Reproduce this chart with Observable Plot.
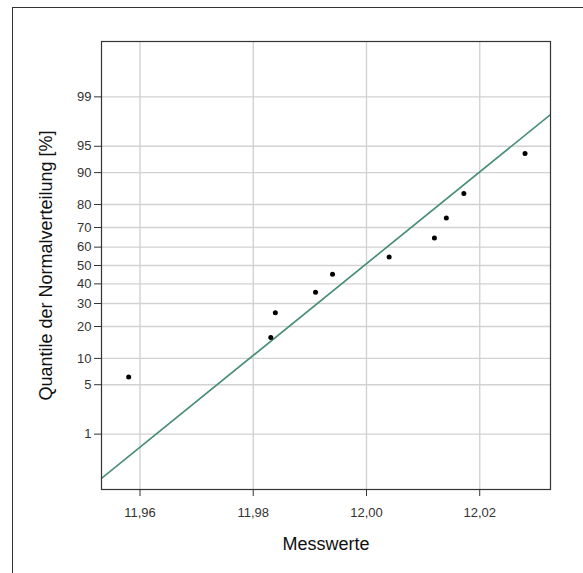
<!DOCTYPE html>
<html><head><meta charset="utf-8">
<script src="https://cdn.jsdelivr.net/npm/d3@7"></script>
<script src="https://cdn.jsdelivr.net/npm/@observablehq/plot@0.6"></script>
<style>
body{margin:0;background:#fff;}
#wrap{position:relative;width:583px;height:573px;overflow:hidden;font-family:"Liberation Sans",Arial,sans-serif;}
#outer{position:absolute;left:12px;top:7px;width:700px;height:700px;border-left:1.5px solid #333;border-top:1.5px solid #333;}
#wrap svg{position:absolute;left:0;top:0;}
</style></head><body><div id="wrap"><div id="outer"></div></div>
<script>
// data
const messwerte = [11.958, 11.9831, 11.9839, 11.991, 11.994, 12.004, 12.012, 12.0141, 12.0172, 12.028];
const quantilePct = [6.2, 16.0, 25.7, 35.6, 45.2, 54.7, 64.8, 74.4, 84.0, 93.9];
const yTicks = [1, 5, 10, 20, 30, 40, 50, 60, 70, 80, 90, 95, 99];
const xTicks = [11.96, 11.98, 12.00, 12.02];
const fitMean = 11.9996, fitSd = 0.0158;
const xDomain = [11.9532, 12.0325];
const pDomain = [0.1, 99.9];

// inverse normal CDF (Acklam)
function qnorm(p) {
  const a = [-3.969683028665376e+01, 2.209460984245205e+02, -2.759285104469687e+02, 1.383577518672690e+02, -3.066479806614716e+01, 2.506628277459239e+00];
  const b = [-5.447609879822406e+01, 1.615858368580409e+02, -1.556989798598866e+02, 6.680131188771972e+01, -1.328068155288572e+01];
  const c = [-7.784894002430293e-03, -3.223964580411365e-01, -2.400758277161838e+00, -2.549732539343734e+00, 4.374664141464968e+00, 2.938163982698783e+00];
  const d = [7.784695709041462e-03, 3.224671290700398e-01, 2.445134137142996e+00, 3.754408661907416e+00];
  const pl = 0.02425, ph = 1 - pl;
  let q, r;
  if (p < pl) { q = Math.sqrt(-2 * Math.log(p)); return (((((c[0]*q+c[1])*q+c[2])*q+c[3])*q+c[4])*q+c[5]) / ((((d[0]*q+d[1])*q+d[2])*q+d[3])*q+1); }
  if (p > ph) { q = Math.sqrt(-2 * Math.log(1 - p)); return -(((((c[0]*q+c[1])*q+c[2])*q+c[3])*q+c[4])*q+c[5]) / ((((d[0]*q+d[1])*q+d[2])*q+d[3])*q+1); }
  q = p - 0.5; r = q * q;
  return (((((a[0]*r+a[1])*r+a[2])*r+a[3])*r+a[4])*r+a[5])*q / (((((b[0]*r+b[1])*r+b[2])*r+b[3])*r+b[4])*r+1);
}

const points = messwerte.map((x, i) => ({x, z: qnorm(quantilePct[i] / 100)}));
const zTicks = yTicks.map(p => qnorm(p / 100));
const zLabel = new Map(zTicks.map((z, i) => [z, String(yTicks[i])]));
const fitLine = xDomain.map(x => ({x, z: (x - fitMean) / fitSd}));

const chart = Plot.plot({
  width: 583, height: 573,
  marginLeft: 101, marginTop: 41, marginRight: 33, marginBottom: 84,
  style: {fontFamily: "'Liberation Sans', Arial, sans-serif", fontSize: "13px", background: "transparent"},
  x: {domain: xDomain},
  y: {domain: pDomain.map(p => qnorm(p / 100))},
  marks: [
    Plot.gridX(xTicks, {stroke: "#d2d2d2", strokeOpacity: 1, strokeWidth: 1.4}),
    Plot.gridY(zTicks, {stroke: "#d2d2d2", strokeOpacity: 1, strokeWidth: 1.4}),
    Plot.axisX(xTicks, {tickSize: 7, tickPadding: 11, stroke: "#333", fill: "#333", tickFormat: d => d.toFixed(2).replace(".", ","), label: null}),
    Plot.axisY(zTicks, {tickSize: 7, tickPadding: 3, stroke: "#333", fill: "#333", tickFormat: z => zLabel.get(z), label: null}),
    Plot.line(fitLine, {x: "x", y: "z", stroke: "#4a8f77", strokeWidth: 1.7, clip: "frame"}),
    Plot.dot(points, {x: "x", y: "z", r: 2.5, fill: "#000", stroke: "none"}),
    Plot.frame({stroke: "#333", strokeWidth: 1.2}),
    Plot.text(["Messwerte"], {frameAnchor: "bottom", dy: 55, lineAnchor: "middle", textAnchor: "middle", fontSize: 18, fill: "#111"}),
    Plot.text(["Quantile der Normalverteilung [%]"], {frameAnchor: "left", dx: -55, rotate: -90, textAnchor: "middle", lineAnchor: "middle", fontSize: 18, fill: "#111"})
  ]
});
document.getElementById("wrap").appendChild(chart);
</script>
</body></html>
